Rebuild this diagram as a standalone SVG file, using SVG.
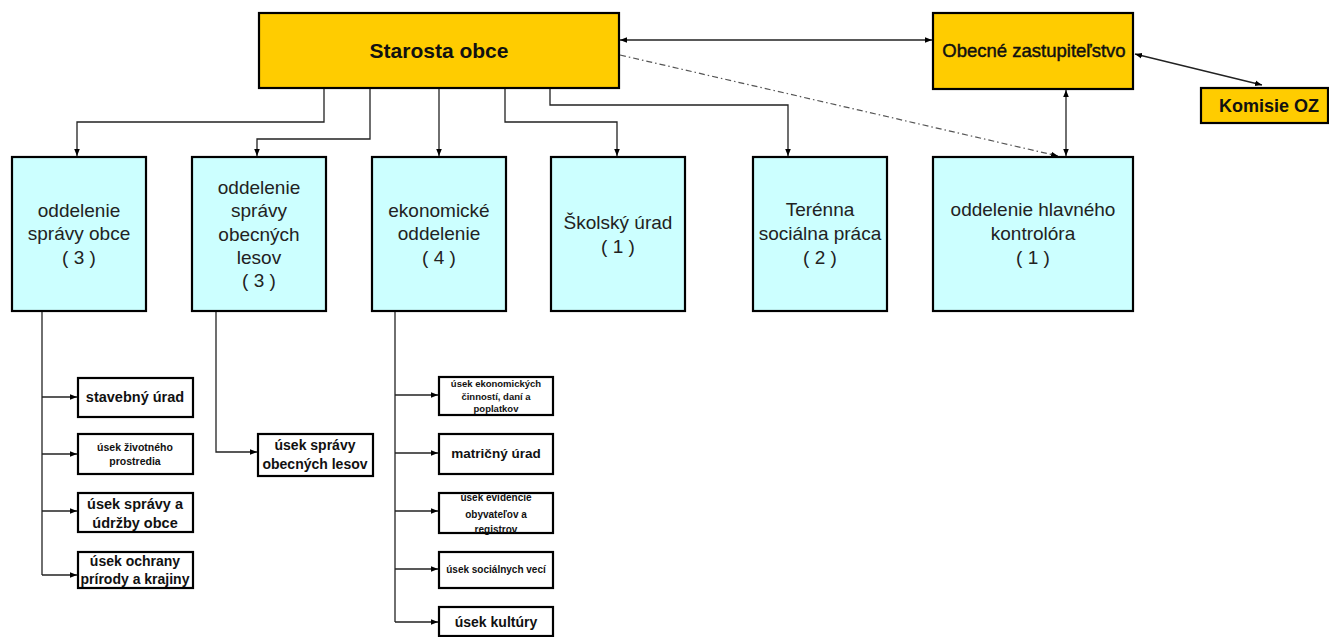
<svg xmlns="http://www.w3.org/2000/svg" width="1329" height="637" viewBox="0 0 1329 637">
<style>
.yel{fill:#FFCC00;stroke:#000;stroke-width:2.2}
.blu{fill:#CCFFFF;stroke:#000;stroke-width:2.2}
.sm{fill:#fff;stroke:#000;stroke-width:2.2}
text{font-family:"Liberation Sans",Arial,sans-serif;text-anchor:middle;fill:#111}
.bt{font-size:19px;fill:#222}
.sb{font-weight:bold}
.ln{fill:none;stroke:#222;stroke-width:1.3}
.dd{fill:none;stroke:#555;stroke-width:1.2;stroke-dasharray:6 3 1.5 3}
</style>
<defs>
<marker id="arr" viewBox="0 0 10 10" refX="10" refY="5" markerWidth="7" markerHeight="7" markerUnits="userSpaceOnUse" orient="auto-start-reverse"><path d="M0,1 L10,5 L0,9 z" fill="#000"/></marker>
</defs>
<rect width="1329" height="637" fill="#fff"/>

<g id="connectors">
<line class="ln" x1="620" y1="40" x2="932" y2="40" marker-start="url(#arr)" marker-end="url(#arr)"/>
<line class="ln" x1="1135" y1="54" x2="1262" y2="85" marker-start="url(#arr)" marker-end="url(#arr)"/>
<line class="ln" x1="1066" y1="90" x2="1066" y2="156" marker-start="url(#arr)" marker-end="url(#arr)"/>
<line class="dd" x1="620" y1="55" x2="1058" y2="156" marker-end="url(#arr)"/>
<polyline class="ln" points="324,89 324,122 77,122 77,156" marker-end="url(#arr)"/>
<polyline class="ln" points="370,89 370,139 257,139 257,156" marker-end="url(#arr)"/>
<polyline class="ln" points="439,89 439,156" marker-end="url(#arr)"/>
<polyline class="ln" points="505,89 505,122 617,122 617,156" marker-end="url(#arr)"/>
<polyline class="ln" points="550,89 550,105 788,105 788,156" marker-end="url(#arr)"/>
<polyline class="ln" points="42,312 42,575"/>
<line class="ln" x1="42" y1="397" x2="77" y2="397" marker-end="url(#arr)"/>
<line class="ln" x1="42" y1="454" x2="77" y2="454" marker-end="url(#arr)"/>
<line class="ln" x1="42" y1="511" x2="77" y2="511" marker-end="url(#arr)"/>
<line class="ln" x1="42" y1="575" x2="77" y2="575" marker-end="url(#arr)"/>
<polyline class="ln" points="216,312 216,452 257,452" marker-end="url(#arr)"/>
<polyline class="ln" points="395,312 395,622"/>
<line class="ln" x1="395" y1="395" x2="438" y2="395" marker-end="url(#arr)"/>
<line class="ln" x1="395" y1="453" x2="438" y2="453" marker-end="url(#arr)"/>
<line class="ln" x1="395" y1="511" x2="438" y2="511" marker-end="url(#arr)"/>
<line class="ln" x1="395" y1="569" x2="438" y2="569" marker-end="url(#arr)"/>
<line class="ln" x1="395" y1="622" x2="438" y2="622" marker-end="url(#arr)"/>
</g>

<g id="starosta"><rect class="yel" x="259" y="13" width="360" height="75"/><text x="439" y="58" class="sb" style="font-size:21px">Starosta obce</text></g>
<g id="zastupitelstvo"><rect class="yel" x="933" y="13" width="200" height="76"/><text x="1034" y="57" style="font-size:18.5px;stroke:#111;stroke-width:0.45">Obecné zastupiteľstvo</text></g>
<g id="komisie"><rect class="yel" x="1201" y="88" width="127" height="35"/><text x="1269" y="112" class="sb" style="font-size:18px">Komisie OZ</text></g>

<g id="oddelenie-spravy-obce"><rect class="blu" x="12" y="157" width="134" height="154"/><text class="bt" x="79" y="217">oddelenie</text><text class="bt" x="79" y="240">správy obce</text><text class="bt" x="79" y="264">( 3 )</text></g>
<g id="oddelenie-lesov"><rect class="blu" x="192" y="157" width="134" height="154"/><text class="bt" x="259" y="194">oddelenie</text><text class="bt" x="259" y="217">správy</text><text class="bt" x="259" y="241">obecných</text><text class="bt" x="259" y="264">lesov</text><text class="bt" x="259" y="287">( 3 )</text></g>
<g id="ekonomicke"><rect class="blu" x="372" y="157" width="134" height="154"/><text class="bt" x="439" y="217">ekonomické</text><text class="bt" x="439" y="240">oddelenie</text><text class="bt" x="439" y="264">( 4 )</text></g>
<g id="skolsky"><rect class="blu" x="551" y="157" width="134" height="154"/><text class="bt" x="618" y="229">Školský úrad</text><text class="bt" x="618" y="253">( 1 )</text></g>
<g id="terenna"><rect class="blu" x="753" y="157" width="134" height="154"/><text class="bt" x="820" y="216">Terénna</text><text class="bt" x="820" y="240">sociálna práca</text><text class="bt" x="820" y="264">( 2 )</text></g>
<g id="kontrolor"><rect class="blu" x="933" y="157" width="200" height="154"/><text class="bt" x="1033" y="216">oddelenie hlavného</text><text class="bt" x="1033" y="240">kontrolóra</text><text class="bt" x="1033" y="264">( 1 )</text></g>

<g id="stavebny"><rect class="sm" x="78" y="378" width="115" height="39"/><text class="sb" x="135" y="402" style="font-size:14.5px">stavebný úrad</text></g>
<g id="zivotne"><rect class="sm" x="78" y="434" width="115" height="40"/><text class="sb" x="135" y="451" style="font-size:10.5px">úsek životného</text><text class="sb" x="135" y="465" style="font-size:10.5px">prostredia</text></g>
<g id="udrzba"><rect class="sm" x="78" y="493" width="115" height="39"/><text class="sb" x="135" y="509" style="font-size:14.5px">úsek správy a</text><text class="sb" x="135" y="528" style="font-size:14.5px">údržby obce</text></g>
<g id="ochrana"><rect class="sm" x="78" y="552" width="115" height="36"/><text class="sb" x="135" y="566" style="font-size:14px">úsek ochrany</text><text class="sb" x="135" y="584" style="font-size:14px">prírody a krajiny</text></g>

<g id="usek-lesov"><rect class="sm" x="258" y="434" width="115" height="42"/><text class="sb" x="315" y="450" style="font-size:14px">úsek správy</text><text class="sb" x="315" y="469" style="font-size:14px">obecných lesov</text></g>

<g id="ekon-cinnosti"><rect class="sm" x="439" y="377" width="114" height="38"/><text class="sb" x="496" y="387" style="font-size:9.5px">úsek ekonomických</text><text class="sb" x="496" y="400" style="font-size:9.5px">činností, daní a</text><text class="sb" x="496" y="412" style="font-size:9.5px">poplatkov</text></g>
<g id="matricny"><rect class="sm" x="439" y="434" width="114" height="40"/><text class="sb" x="496" y="458" style="font-size:13.5px">matričný úrad</text></g>
<g id="evidencia"><rect class="sm" x="439" y="493" width="114" height="40"/><text class="sb" x="496" y="501" style="font-size:10px">úsek evidencie</text><text class="sb" x="496" y="518" style="font-size:10px">obyvateľov a</text><text class="sb" x="496" y="533" style="font-size:10px">registrov</text></g>
<g id="socialne"><rect class="sm" x="439" y="552" width="114" height="36"/><text class="sb" x="496" y="573" style="font-size:10px">úsek sociálnych vecí</text></g>
<g id="kultura"><rect class="sm" x="439" y="607" width="114" height="29"/><text class="sb" x="496" y="627" style="font-size:14px">úsek kultúry</text></g>
</svg>
